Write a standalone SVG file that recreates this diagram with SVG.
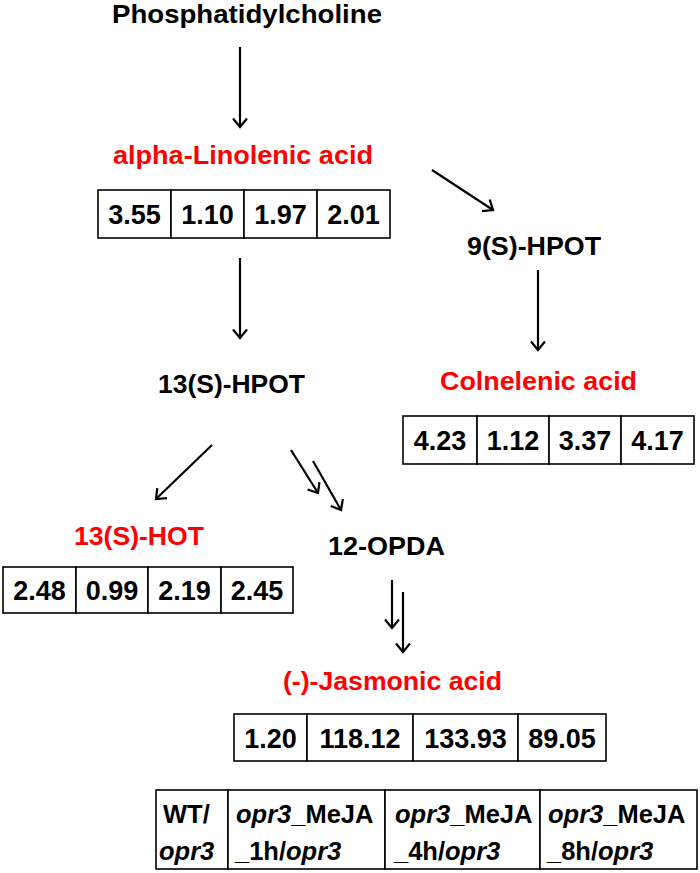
<svg xmlns="http://www.w3.org/2000/svg" width="700" height="873" viewBox="0 0 700 873">
<style>
.lbl{font-family:"Liberation Sans",Arial,sans-serif;font-weight:bold;font-size:25px;fill:#000}
.red{fill:#FF0000}
.num{font-family:"Liberation Sans",Arial,sans-serif;font-weight:bold;font-size:27px;fill:#000;text-anchor:middle}
.hdr{font-family:"Liberation Sans",Arial,sans-serif;font-weight:bold;font-size:25.5px;fill:#000}
.it{font-style:italic}
.cell{fill:#fff;stroke:#000;stroke-width:1.6}
.arr{stroke:#000;stroke-width:2.2;fill:none;marker-end:url(#ah)}
</style>
<defs>
<marker id="ah" viewBox="-10 -8 12 16" refX="0" refY="0" markerWidth="12" markerHeight="16" markerUnits="userSpaceOnUse" orient="auto">
<path d="M-8.5,-7 L0,0 L-8.5,7" fill="none" stroke="#000" stroke-width="2.2"/>
</marker>
</defs>
<rect width="700" height="873" fill="#fff"/>
<g id="connectors">
<line class="arr" x1="240" y1="47" x2="240" y2="127"/>
<line class="arr" x1="432" y1="170" x2="493" y2="210"/>
<line class="arr" x1="538" y1="270" x2="538" y2="350"/>
<line class="arr" x1="240" y1="258" x2="240" y2="338"/>
<line class="arr" x1="212" y1="445" x2="156" y2="499"/>
<line class="arr" x1="291" y1="450" x2="318" y2="493"/>
<line class="arr" x1="313" y1="461" x2="341" y2="510"/>
<line class="arr" x1="392" y1="580" x2="392" y2="628"/>
<line class="arr" x1="403" y1="592" x2="403" y2="652"/>
</g>
<g id="phosphatidylcholine">
<text class="lbl" x="112" y="23" textLength="270" lengthAdjust="spacingAndGlyphs">Phosphatidylcholine</text>
</g>
<g id="alpha-linolenic">
<text class="lbl red" x="113" y="164" textLength="260" lengthAdjust="spacingAndGlyphs">alpha-Linolenic acid</text>
<rect class="cell" x="98" y="190" width="73" height="48"/>
<rect class="cell" x="171" y="190" width="73" height="48"/>
<rect class="cell" x="244" y="190" width="73" height="48"/>
<rect class="cell" x="317" y="190" width="73" height="48"/>
<text class="num" x="134.5" y="224">3.55</text>
<text class="num" x="207.5" y="224">1.10</text>
<text class="num" x="280.5" y="224">1.97</text>
<text class="num" x="353.5" y="224">2.01</text>
</g>
<g id="hpot9">
<text class="lbl" x="467" y="255" textLength="134" lengthAdjust="spacingAndGlyphs">9(S)-HPOT</text>
</g>
<g id="colnelenic">
<text class="lbl red" x="440" y="390" textLength="197" lengthAdjust="spacingAndGlyphs">Colnelenic acid</text>
<rect class="cell" x="403" y="416" width="74" height="48"/>
<rect class="cell" x="477" y="416" width="72" height="48"/>
<rect class="cell" x="549" y="416" width="72" height="48"/>
<rect class="cell" x="621" y="416" width="73" height="48"/>
<text class="num" x="440" y="450">4.23</text>
<text class="num" x="513" y="450">1.12</text>
<text class="num" x="585" y="450">3.37</text>
<text class="num" x="657.5" y="450">4.17</text>
</g>
<g id="hpot13">
<text class="lbl" x="158" y="393" textLength="147" lengthAdjust="spacingAndGlyphs">13(S)-HPOT</text>
</g>
<g id="hot13">
<text class="lbl red" x="74" y="545" textLength="130" lengthAdjust="spacingAndGlyphs">13(S)-HOT</text>
<rect class="cell" x="3" y="567" width="73" height="46"/>
<rect class="cell" x="76" y="567" width="72" height="46"/>
<rect class="cell" x="148" y="567" width="73" height="46"/>
<rect class="cell" x="221" y="567" width="72" height="46"/>
<text class="num" x="39.5" y="600">2.48</text>
<text class="num" x="112" y="600">0.99</text>
<text class="num" x="184.5" y="600">2.19</text>
<text class="num" x="257" y="600">2.45</text>
</g>
<g id="opda12">
<text class="lbl" x="328" y="555" textLength="117" lengthAdjust="spacingAndGlyphs">12-OPDA</text>
</g>
<g id="jasmonic">
<text class="lbl red" x="283" y="690" textLength="219" lengthAdjust="spacingAndGlyphs">(-)-Jasmonic acid</text>
<rect class="cell" x="234" y="714" width="73" height="47"/>
<rect class="cell" x="307" y="714" width="106" height="47"/>
<rect class="cell" x="413" y="714" width="105" height="47"/>
<rect class="cell" x="518" y="714" width="88" height="47"/>
<text class="num" x="270.5" y="748">1.20</text>
<text class="num" x="360" y="748">118.12</text>
<text class="num" x="465.5" y="748">133.93</text>
<text class="num" x="562" y="748">89.05</text>
</g>
<g id="legend">
<rect class="cell" x="156" y="790" width="72" height="79"/>
<rect class="cell" x="228" y="790" width="157" height="79"/>
<rect class="cell" x="385" y="790" width="155" height="79"/>
<rect class="cell" x="540" y="790" width="157" height="79"/>
<text class="hdr" x="163" y="823">WT/</text>
<text class="hdr it" x="159" y="860">opr3</text>
<text class="hdr" x="236" y="823"><tspan class="it">opr3</tspan>_MeJA</text>
<text class="hdr" x="235" y="860">_1h/<tspan class="it">opr3</tspan></text>
<text class="hdr" x="395" y="823"><tspan class="it">opr3</tspan>_MeJA</text>
<text class="hdr" x="394" y="860">_4h/<tspan class="it">opr3</tspan></text>
<text class="hdr" x="548" y="823"><tspan class="it">opr3</tspan>_MeJA</text>
<text class="hdr" x="547" y="860">_8h/<tspan class="it">opr3</tspan></text>
</g>
</svg>
